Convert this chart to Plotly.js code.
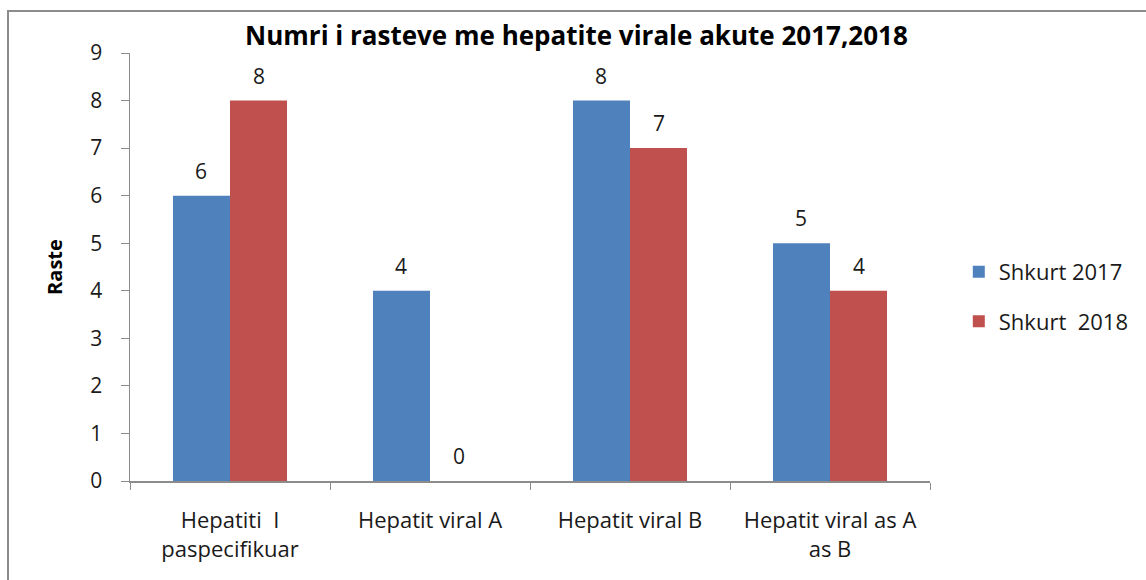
<!DOCTYPE html>
<html>
<head>
<meta charset="utf-8">
<script src="https://cdn.plot.ly/plotly-3.0.1.min.js"></script>
<style>
  html, body { margin: 0; padding: 0; background: #fff; overflow: hidden; }
  #frame { position: absolute; left: 7px; top: 10px; width: 1160px; height: 600px; border: 2px solid #8c8c8c; }
  #chart { position: absolute; left: 0; top: 0; width: 1146px; height: 580px; }
</style>
</head>
<body>
<div id="frame"></div>
<div id="chart"></div>
<script>
// Numri i rasteve me hepatite virale akute
const kategorite = ["Hepatiti  I<br>paspecifikuar", "Hepatit viral A", "Hepatit viral B", "Hepatit viral as A<br>as B"];
const emra = ["Shkurt 2017", "Shkurt  2018"];
const raste2017 = [6, 4, 8, 5];
const raste2018 = [8, 0, 7, 4];
const ngjyra = ["#4F81BD", "#C0504D"];

const FONT = "'Open Sans', sans-serif";
const seri = [raste2017, raste2018];

const traces = seri.map((vals, i) => ({
  type: "bar",
  x: kategorite,
  y: vals,
  name: emra[i],
  legendgroup: "g" + i,
  marker: { color: ngjyra[i] },
  hoverinfo: "skip",
}));

// etiketat mbi shtyllat
const annotations = [];
seri.forEach((vals, i) => {
  vals.forEach((v, j) => {
    annotations.push({
      x: kategorite[j],
      y: v,
      xref: "x",
      yref: "y",
      text: String(v),
      showarrow: false,
      xanchor: "center",
      yanchor: "bottom",
      xshift: i === 0 ? -29 : 29,
      yshift: 9,
      font: { family: FONT, size: 21, color: "#1a1a1a" },
    });
  });
});

Plotly.newPlot(
  "chart",
  traces,
  {
    width: 1146,
    height: 580,
    title: {
      text: "<b>Numri i rasteve me hepatite virale akute 2017,2018</b>",
      font: { family: FONT, size: 26, color: "#000" },
      x: 0.503,
      xanchor: "center",
      y: 0.938,
      yanchor: "middle",
    },
    barmode: "group",
    bargap: 0.43,
    bargroupgap: 0,
    showlegend: true,
    legend: {
      x: 1.036,
      y: 0.43,
      xanchor: "left",
      yanchor: "middle",
      font: { family: FONT, size: 22, color: "#1a1a1a" },
      itemwidth: 30,
      tracegroupgap: 18,
    },
    xaxis: {
      type: "category",
      showline: true,
      linecolor: "#8c8c8c",
      linewidth: 1.5,
      ticks: "outside",
      tickson: "boundaries",
      ticklen: 7,
      tickcolor: "#8c8c8c",
      tickfont: { family: FONT, size: 22, color: "#1a1a1a" },
      ticklabelstandoff: 19,
      showgrid: false,
      zeroline: false,
    },
    yaxis: {
      range: [0, 9],
      dtick: 1,
      showline: true,
      linecolor: "#8c8c8c",
      linewidth: 1.5,
      ticks: "outside",
      ticklen: 8,
      tickcolor: "#8c8c8c",
      tickfont: { family: FONT, size: 21, color: "#1a1a1a" },
      ticklabelstandoff: 14,
      showgrid: false,
      zeroline: false,
      title: { text: "<b>Raste</b>", font: { family: FONT, size: 20, color: "#000" }, standoff: 22 },
    },
    annotations,
    margin: { l: 130, r: 214, t: 53, b: 99 },
    paper_bgcolor: "rgba(0,0,0,0)",
    plot_bgcolor: "rgba(0,0,0,0)",
  },
  { displayModeBar: false, staticPlot: true }
);
</script>
</body>
</html>
